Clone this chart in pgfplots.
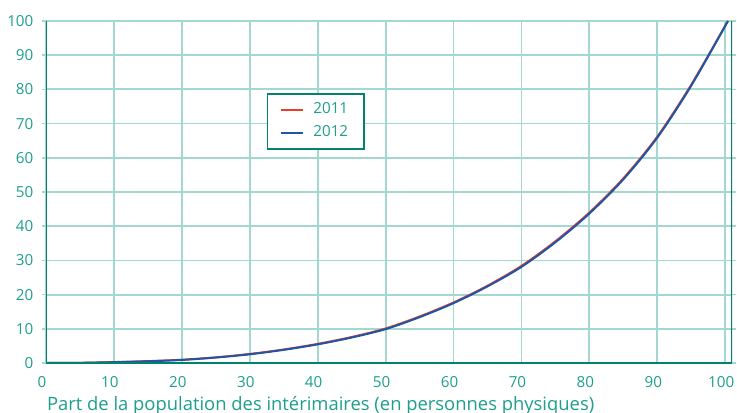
\documentclass[border=0pt]{standalone}
\usepackage{fontspec}
\setmainfont{Open Sans}
\usepackage{pgfplots}
\pgfplotsset{compat=1.18}
\definecolor{tealtxt}{HTML}{1E9E8C}
\definecolor{tealax}{HTML}{00826C}
\definecolor{tealgrid}{HTML}{A3D7CF}
\definecolor{cred}{HTML}{E8402F}
\definecolor{cblue}{HTML}{1F55A5}
\begin{document}
\begin{tikzpicture}
\begin{axis}[
  name=ax,
  scale only axis,
  width=343pt, height=171pt,
  xmin=0, xmax=101, ymin=0, ymax=100,
  xtick={0,10,...,100}, ytick={0,10,...,100},
  grid=major,
  major grid style={tealgrid, line width=0.9pt},
  axis line style={draw=none},
  xtick style={draw=none},
  ytick style={tealgrid, line width=0.8pt},
  tick align=outside,
  major tick length=2pt,
  ticklabel style={font=\fontsize{7.6}{9}\selectfont, text=tealtxt},
  /pgf/number format/assume math mode=true,
  yticklabel style={xshift=-0.8pt},
  xticklabel style={yshift=-1pt, xshift=-2pt},
  xlabel={Part de la population des intérimaires (en personnes physiques)},
  xlabel style={font=\fontsize{9.2}{11}\selectfont, text=tealtxt,
    at={(rel axis cs:0,0)}, anchor=north west, xshift=-3pt, yshift=-13pt},
  legend style={at={(rel axis cs:0.322,0.789)}, anchor=north west,
    draw=tealax, line width=0.7pt, font=\fontsize{7.6}{9}\selectfont, text=tealtxt,
    inner xsep=6pt, inner ysep=2.5pt, row sep=0.5pt},
  legend cell align=left,
  legend image code/.code={\draw[#1, line width=0.9pt] (0cm,0cm) -- (11pt,0cm);},
]
\addplot[cred, line width=1pt, smooth] coordinates {
(0,0) (5,0.06) (10,0.27) (15,0.55) (20,0.95) (25,1.65) (30,2.65) (35,3.95) (40,5.6) (45,7.6) (50,10.1) (55,13.6) (60,17.7) (65,22.6) (70,28.4) (75,35.6) (80,44.0) (85,54.0) (90,66.2) (95,81.4) (100.4,100)
};
\addlegendentry{\hspace{3pt}2011\hspace{1pt}}
\addplot[cblue, line width=1pt, smooth] coordinates {
(0,0) (5,0.05) (10,0.24) (15,0.5) (20,0.9) (25,1.6) (30,2.55) (35,3.85) (40,5.45) (45,7.45) (50,9.9) (55,13.4) (60,17.5) (65,22.4) (70,28.1) (75,35.3) (80,43.7) (85,53.7) (90,65.9) (95,81.1) (100.4,100)
};
\addlegendentry{\hspace{3pt}2012\hspace{1pt}}
\draw[tealax, line width=1.3pt] (rel axis cs:0,1) -- (rel axis cs:0,0) -- (rel axis cs:1,0);
\draw[tealax, line width=0.9pt] (rel axis cs:1,0) -- (rel axis cs:1,1);
\end{axis}
\pgfresetboundingbox
\path[use as bounding box] ([xshift=-23pt,yshift=-24.5pt]ax.south west) rectangle ([xshift=2.5pt,yshift=10.5pt]ax.north east);
\end{tikzpicture}
\end{document}
